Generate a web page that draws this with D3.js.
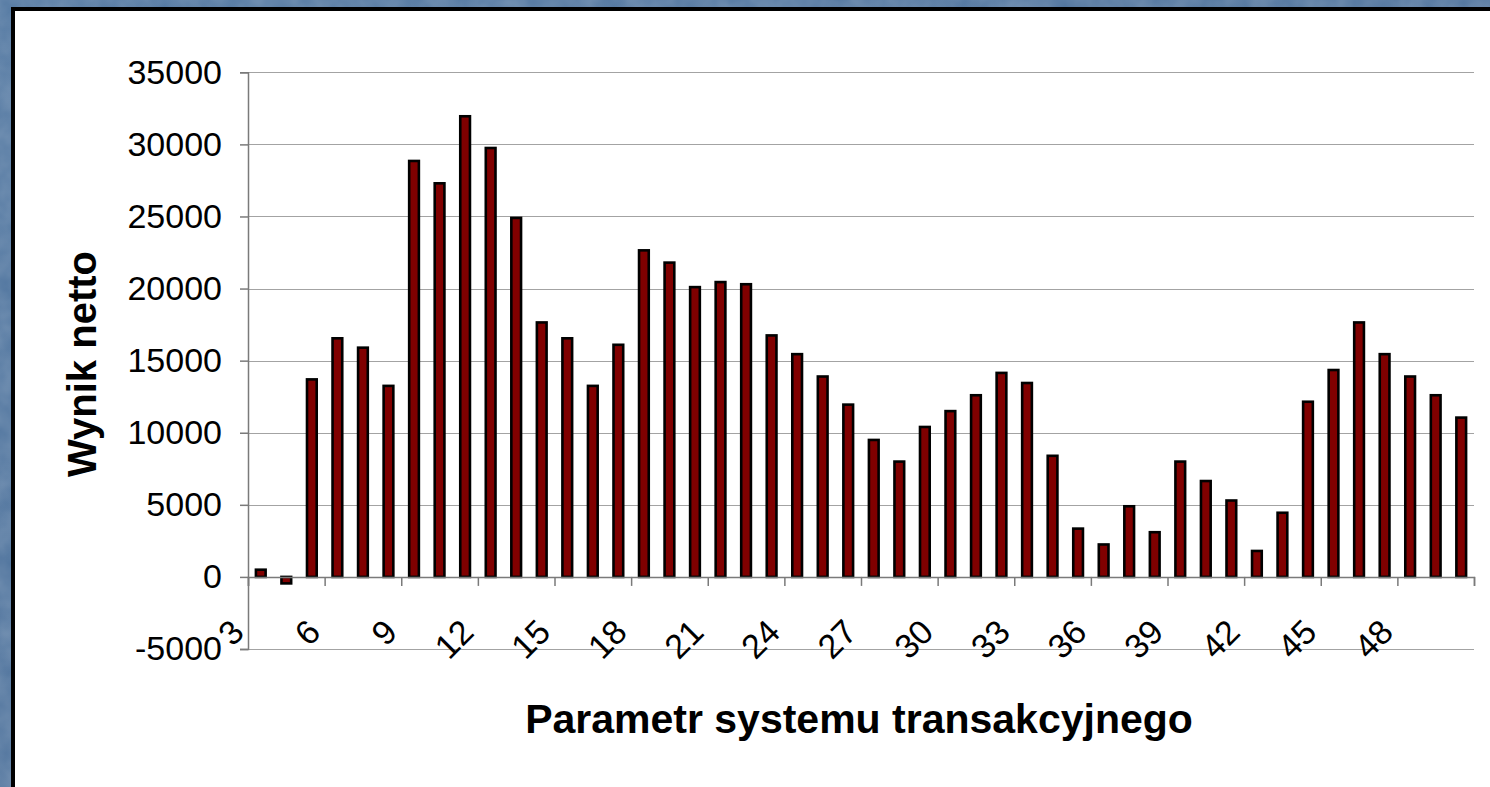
<!DOCTYPE html>
<html>
<head>
<meta charset="utf-8">
<script src="https://d3js.org/d3.v7.min.js"></script>
<style>
  html, body { margin: 0; padding: 0; background: #5a7da6; }
  svg { display: block; font-family: "Liberation Sans", Arial, sans-serif; }
</style>
</head>
<body>
<div id="chart"></div>
<script>
// category labels (parameter values 3..50)
const categories = [3, 4, 5, 6, 7, 8, 9, 10, 11, 12, 13, 14, 15, 16, 17, 18, 19, 20,
    21, 22, 23, 24, 25, 26, 27, 28, 29, 30, 31, 32, 33, 34, 35, 36, 37, 38,
    39, 40, 41, 42, 43, 44, 45, 46, 47, 48, 49, 50];

// net result per parameter
const values = [500, -450, 13700, 16550, 15900, 13250, 28850, 27300, 31950, 29750,
    24900, 17650, 16550, 13250, 16100, 22650, 21800, 20100, 20450, 20300,
    16750, 15450, 13900, 11950, 9500, 8000, 10400, 11500, 12600, 14150,
    13450, 8400, 3350, 2250, 4900, 3100, 8000, 6650, 5300, 1800,
    4450, 12150, 14350, 17650, 15450, 13900, 12600, 11050];

const yTicks = [-5000, 0, 5000, 10000, 15000, 20000, 25000, 30000, 35000];
const xTickLabels = [3, 6, 9, 12, 15, 18, 21, 24, 27, 30, 33, 36, 39, 42, 45, 48];

const yTitle = 'Wynik netto';
const xTitle = 'Parametr systemu transakcyjnego';

const width = 1490, height = 787;
const plot = { left: 248, right: 1474, top: 72.3, bottom: 649 };

const svg = d3.select('#chart').append('svg')
    .attr('width', width)
    .attr('height', height);

// textured blue background
const defs = svg.append('defs');
const grad = defs.append('linearGradient').attr('id', 'bg')
    .attr('x1', 0).attr('y1', 0).attr('x2', 1).attr('y2', 1);
grad.append('stop').attr('offset', 0).attr('stop-color', '#557aa3');
grad.append('stop').attr('offset', 1).attr('stop-color', '#4d6f98');
const filt = defs.append('filter').attr('id', 'tex');
filt.append('feTurbulence').attr('type', 'fractalNoise')
    .attr('baseFrequency', 0.04).attr('numOctaves', 3).attr('seed', 4);
filt.append('feColorMatrix').attr('type', 'matrix')
    .attr('values', '0 0 0 0 1  0 0 0 0 1  0 0 0 0 1  0 0 0 0.22 -0.02');

svg.append('rect').attr('width', width).attr('height', height).attr('fill', 'url(#bg)');
svg.append('rect').attr('width', width).attr('height', height).attr('filter', 'url(#tex)');

// white panel with black edge
svg.append('rect')
    .attr('x', 13).attr('y', 9)
    .attr('width', width + 10).attr('height', height + 10)
    .attr('fill', '#ffffff')
    .attr('stroke', '#000')
    .attr('stroke-width', 4);

// scales
const y = d3.scaleLinear()
    .domain([-5000, 35000])
    .range([plot.bottom, plot.top]);

const x = d3.scaleBand()
    .domain(categories)
    .range([plot.left, plot.right])
    .paddingInner(0.62)
    .paddingOuter(0.31);

const xIdx = d3.scaleLinear()
    .domain([0, categories.length])
    .range([plot.left, plot.right]);

// gridlines
svg.append('g')
    .selectAll('line')
    .data(yTicks)
    .enter()
    .append('line')
    .attr('x1', plot.left)
    .attr('x2', plot.right)
    .attr('y1', d => Math.round(y(d)) + 0.5)
    .attr('y2', d => Math.round(y(d)) + 0.5)
    .attr('stroke', '#a3a3a3')
    .attr('stroke-width', 1.2);

// y axis
const yAxis = d3.axisLeft(y)
    .tickValues(yTicks)
    .tickSize(8)
    .tickPadding(18)
    .tickFormat(d => d);

svg.append('g')
    .attr('transform', `translate(${plot.left},0)`)
    .call(yAxis)
    .call(g => g.select('.domain').attr('stroke', '#7a7a7a').attr('stroke-width', 1.5))
    .call(g => g.selectAll('.tick line').attr('stroke', '#7a7a7a').attr('stroke-width', 1.5))
    .call(g => g.selectAll('.tick text')
        .attr('font-size', '34px')
        .attr('font-family', '"Liberation Sans", Arial, sans-serif')
        .attr('fill', '#000'));

// bars
svg.append('g')
    .selectAll('.bar')
    .data(categories)
    .enter()
    .append('rect')
    .attr('class', 'bar')
    .attr('x', d => x(d))
    .attr('width', x.bandwidth())
    .attr('y', (d, i) => y(Math.max(0, values[i])))
    .attr('height', (d, i) => Math.abs(y(values[i]) - y(0)))
    .attr('fill', '#800000')
    .attr('stroke', '#000')
    .attr('stroke-width', 2.6);

// x axis at zero with ticks every 3 categories
const xAxis = d3.axisBottom(xIdx)
    .tickValues(d3.range(0, categories.length + 1, 3))
    .tickSize(9)
    .tickFormat('');

svg.append('g')
    .attr('transform', `translate(0,${y(0)})`)
    .call(xAxis)
    .call(g => g.select('.domain').attr('stroke', '#7a7a7a').attr('stroke-width', 1.5))
    .call(g => g.selectAll('.tick line').attr('stroke', '#7a7a7a').attr('stroke-width', 1.5));

// rotated category labels
svg.append('g')
    .selectAll('text')
    .data(xTickLabels)
    .enter()
    .append('text')
    .attr('transform', d => `translate(${x(d) + x.bandwidth() / 2 - 15},634) rotate(-45)`)
    .attr('text-anchor', 'end')
    .attr('font-size', '34px')
    .attr('fill', '#000')
    .text(d => d);

// axis titles
svg.append('text')
    .attr('transform', `translate(96,364) rotate(-90)`)
    .attr('text-anchor', 'middle')
    .attr('font-size', '40px')
    .attr('font-weight', 'bold')
    .attr('fill', '#000')
    .text(yTitle);

svg.append('text')
    .attr('x', (plot.left + plot.right) / 2 - 2)
    .attr('y', 733)
    .attr('text-anchor', 'middle')
    .attr('font-size', '41px')
    .attr('font-weight', 'bold')
    .attr('fill', '#000')
    .text(xTitle);
</script>
</body>
</html>
